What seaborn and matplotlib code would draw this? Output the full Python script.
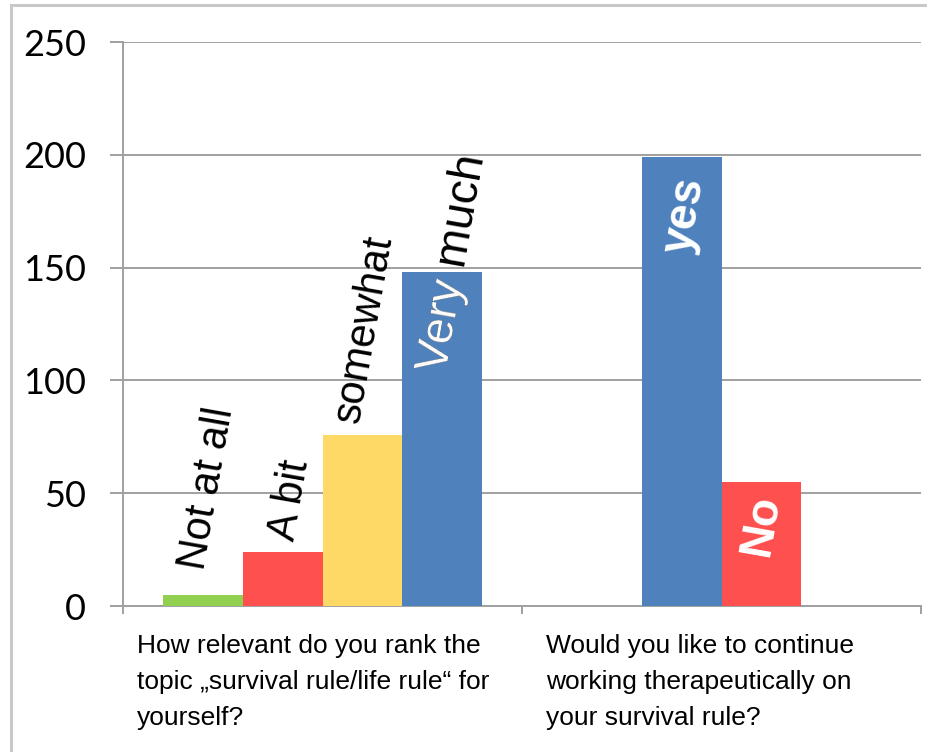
import matplotlib.pyplot as plt
import matplotlib.transforms as mtransforms
from matplotlib.patches import Rectangle
import seaborn as sns
import pandas as pd

# Survey answers
questions = ['How relevant do you rank the\ntopic „survival rule/life rule“ for\nyourself?',
             'Would you like to continue\nworking therapeutically on\nyour survival rule?']
answers_q1 = ['Not at all', 'A bit', 'somewhat', 'Very much']
values_q1 = [5, 24, 76, 148]
answers_q2 = ['yes', 'No']
values_q2 = [199, 55]
slots_q2 = [1, 2]   # the two bars sit in the middle slots of the second group

bar_colors = {'Not at all': '#92D050', 'A bit': '#FF5050', 'somewhat': '#FFD966',
              'Very much': '#4F81BD', 'yes': '#4F81BD', 'No': '#FF5050'}

rows = []
for i, (a, v) in enumerate(zip(answers_q1, values_q1)):
    rows.append({'q': 0, 'slot': f's{i}', 'answer': a, 'value': v})
for s, a, v in zip(slots_q2, answers_q2, values_q2):
    rows.append({'q': 1, 'slot': f's{s}', 'answer': a, 'value': v})
df = pd.DataFrame(rows)
slot_order = ['s0', 's1', 's2', 's3']

sns.set_theme(style='white')
plt.rcParams['font.family'] = ['Liberation Sans', 'DejaVu Sans']

fig = plt.figure(figsize=(9.28, 7.52), dpi=100)
ax = fig.add_axes([123 / 928, 1 - 606 / 752, (921 - 123) / 928, (606 - 42) / 752])

sns.barplot(data=df, x='q', y='value', hue='slot', hue_order=slot_order,
            palette=['#cccccc'] * 4, saturation=1, width=0.8, dodge=True,
            legend=False, edgecolor='none', linewidth=0, ax=ax, zorder=3)

# label placement: centre height (data units), sideways nudge (pixels), size
label_y = {'Not at all': 52, 'A bit': 47, 'somewhat': 123, 'Very much': 152, 'yes': 173, 'No': 36}
label_dx = {'Not at all': 5, 'A bit': 8, 'somewhat': 2, 'Very much': 11, 'yes': 3, 'No': 0}
label_fs = {'Not at all': 30, 'A bit': 30, 'somewhat': 30, 'Very much': 33.5, 'yes': 33, 'No': 33}

for slot, cont in zip(slot_order, ax.containers):
    for bar in cont:
        xc = bar.get_x() + bar.get_width() / 2
        q = int(round(xc))
        row = df[(df['q'] == q) & (df['slot'] == slot)].iloc[0]
        ans = row['answer']
        bar.set_facecolor(bar_colors[ans])
        tr = mtransforms.offset_copy(ax.transData, fig=fig, x=label_dx[ans], y=0, units='dots')
        if ans in ('yes', 'No'):
            ax.text(xc, label_y[ans], ans, transform=tr, rotation=80, rotation_mode='anchor',
                    ha='center', va='center', fontsize=label_fs[ans], fontweight='bold',
                    color='white', zorder=5)
        else:
            ax.text(xc, label_y[ans], ans, transform=tr, rotation=80, rotation_mode='anchor',
                    ha='center', va='center', fontsize=label_fs[ans], color='black', zorder=5)
            # part of the label that lies over its own bar is white
            t = ax.text(xc, label_y[ans], ans, transform=tr, rotation=80, rotation_mode='anchor',
                        ha='center', va='center', fontsize=label_fs[ans], color='white', zorder=6)
            t.set_clip_on(True)
            t.set_clip_box(mtransforms.TransformedBbox(bar.get_bbox(), ax.transData))

ax.set_ylim(0, 250)
ax.set_xlim(-0.5, 1.5)
ax.set_yticks(range(0, 251, 50))
ax.set_xticks([-0.5, 0.5, 1.5])
ax.set_xticklabels([])
ax.set_xlabel('')
ax.set_ylabel('')
ax.yaxis.grid(True, color='#a0a0a0', linewidth=1.4, zorder=0)
ax.set_axisbelow(True)
ax.tick_params(axis='y', length=9.5, width=1.4, color='#a0a0a0', pad=17,
               labelsize=26, labelcolor='black', direction='out', left=True)
ax.tick_params(axis='x', length=6, width=1.4, color='#a0a0a0', direction='out', bottom=True)
for lab in ax.get_yticklabels():
    lab.set_family(['Lato', 'DejaVu Sans'])
for side in ['top', 'right']:
    ax.spines[side].set_visible(False)
for side in ['left', 'bottom']:
    ax.spines[side].set_color('#a0a0a0')
    ax.spines[side].set_linewidth(1.4)

# category captions under each group
cap_x = [-0.465, 0.56]
for x, q in zip(cap_x, questions):
    ax.annotate(q, xy=(x, 0), xycoords=('data', 'axes fraction'),
                xytext=(0, -28), textcoords='offset pixels',
                ha='left', va='top', fontsize=19, linespacing=1.62, color='black')

# light frame around the chart
fig.add_artist(Rectangle((11 / 928, -0.1), 1.2, 1 - 5 / 752 + 0.1, transform=fig.transFigure,
                         fill=False, edgecolor='#c8c8c8', linewidth=2.2))

fig.savefig('out.png', dpi=100)
